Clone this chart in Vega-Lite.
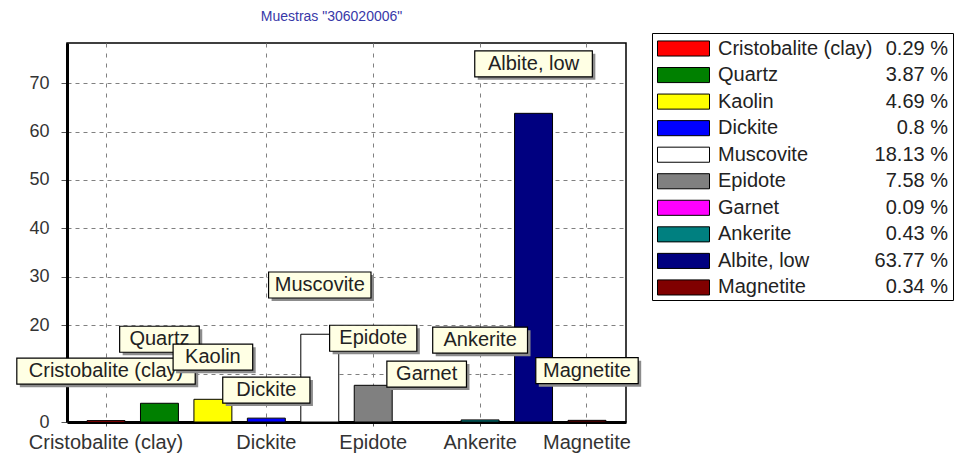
{
  "$schema": "https://vega.github.io/schema/vega-lite/v6.json",
  "width": 559,
  "height": 379,
  "autosize": {"type": "none"},
  "padding": {"left": 67, "top": 43, "right": 338, "bottom": 39},
  "background": "white",
  "title": {
    "text": "Muestras \"306020006\"",
    "color": "#3838a8",
    "fontSize": 14,
    "font": "Liberation Sans",
    "fontWeight": "normal",
    "anchor": "middle",
    "dx": -15,
    "offset": 9
  },
  "config": {
    "font": "Liberation Sans",
    "view": {"stroke": "black", "strokeWidth": 1.5},
    "axis": {
      "labelFont": "Liberation Sans",
      "labelColor": "#333333",
      "gridColor": "#808080",
      "gridDash": [4, 4],
      "gridWidth": 1,
      "domainColor": "black",
      "domainWidth": 3,
      "tickColor": "#555555",
      "title": null
    }
  },
  "datasets": {
    "minerals": [
      {"mineral": "Cristobalite (clay)", "value": 0.29},
      {"mineral": "Quartz", "value": 3.87},
      {"mineral": "Kaolin", "value": 4.69},
      {"mineral": "Dickite", "value": 0.8},
      {"mineral": "Muscovite", "value": 18.13},
      {"mineral": "Epidote", "value": 7.58},
      {"mineral": "Garnet", "value": 0.09},
      {"mineral": "Ankerite", "value": 0.43},
      {"mineral": "Albite, low", "value": 63.77},
      {"mineral": "Magnetite", "value": 0.34}
    ],
    "labels": [
      {"mineral": "Cristobalite (clay)", "label_y": 10.5},
      {"mineral": "Quartz", "label_y": 17.1},
      {"mineral": "Kaolin", "label_y": 13.4},
      {"mineral": "Dickite", "label_y": 6.6},
      {"mineral": "Muscovite", "label_y": 28.3},
      {"mineral": "Epidote", "label_y": 17.3},
      {"mineral": "Garnet", "label_y": 9.9},
      {"mineral": "Ankerite", "label_y": 16.9},
      {"mineral": "Albite, low", "label_y": 74.0},
      {"mineral": "Magnetite", "label_y": 10.6}
    ]
  },
  "layer": [
    {
      "data": {"name": "minerals"},
      "mark": {"type": "bar", "stroke": "black", "strokeWidth": 1},
      "encoding": {
        "x": {
          "field": "mineral",
          "type": "nominal",
          "sort": null,
          "scale": {"paddingInner": 0.29, "paddingOuter": 0.375},
          "axis": {
            "values": ["Cristobalite (clay)", "Dickite", "Epidote", "Ankerite", "Magnetite"],
            "labelAngle": 0,
            "labelFontSize": 20,
            "labelPadding": 6,
            "tickSize": 4,
            "grid": true,
            "gridDash": [4, 6],
            "labelOverlap": false,
            "zindex": 0
          }
        },
        "y": {
          "field": "value",
          "type": "quantitative",
          "scale": {"domain": [0, 78.3], "nice": false},
          "axis": {
            "values": [0, 10, 20, 30, 40, 50, 60, 70],
            "labelFontSize": 18,
            "tickSize": 6,
            "labelPadding": 12,
            "grid": true,
            "zindex": 0
          }
        },
        "color": {
          "field": "mineral",
          "type": "nominal",
          "sort": null,
          "scale": {"range": ["#ff0000", "#008000", "#ffff00", "#0000ff", "#ffffff", "#808080", "#ff00ff", "#008080", "#000080", "#800000"]},
          "legend": {
            "orient": "none",
            "legendX": 585,
            "legendY": -10,
            "title": null,
            "symbolType": "M-2,-0.58H2V0.58H-2Z",
            "symbolSize": 676,
            "symbolOffset": 16,
            "symbolStrokeColor": "black",
            "symbolStrokeWidth": 1,
            "labelFontSize": 20,
            "labelColor": "#222222",
            "labelOffset": 21,
            "labelLimit": 300,
            "rowPadding": 2.55,
            "padding": 2,
            "zindex": 2
          }
        }
      }
    },
    {
      "data": {"name": "minerals"},
      "mark": {"type": "point", "opacity": 0},
      "encoding": {
        "x": {"field": "mineral", "type": "nominal", "sort": null},
        "y": {"field": "value", "type": "quantitative"},
        "shape": {
          "field": "value",
          "type": "nominal",
          "sort": null,
          "scale": {"range": ["M-1,-0.58H21.77V0.58H-1Z"]},
          "legend": {
            "orient": "none",
            "legendX": 585,
            "legendY": -10,
            "title": null,
            "symbolSize": 676,
            "symbolOpacity": 0,
            "symbolStrokeWidth": 1,
            "symbolStrokeColor": "transparent",
            "labelFontSize": 20,
            "labelColor": "#222222",
            "labelAlign": "right",
            "labelOffset": 267,
            "labelExpr": "datum.label + ' %'",
            "rowPadding": 2.55,
            "padding": 2,
            "strokeColor": "black",
            "fillColor": "white",
            "zindex": 1
          }
        }
      }
    },
    {
      "data": {"name": "labels"},
      "transform": [{"filter": "datum.mineral !== 'Kaolin'"}],
      "mark": {"type": "rect", "width": {"expr": "length(datum.mineral)*7.6+34"}, "height": 26, "fill": "#8c8c8c", "xOffset": 3, "yOffset": 3},
      "encoding": {
        "x": {"field": "mineral", "type": "nominal", "sort": null},
        "y": {"field": "label_y", "type": "quantitative"}
      }
    },
    {
      "data": {"name": "labels"},
      "transform": [{"filter": "datum.mineral !== 'Kaolin'"}],
      "mark": {"type": "rect", "width": {"expr": "length(datum.mineral)*7.6+34"}, "height": 26, "fill": "#ffffe4", "stroke": "black", "strokeWidth": 1.2},
      "encoding": {
        "x": {"field": "mineral", "type": "nominal", "sort": null},
        "y": {"field": "label_y", "type": "quantitative"}
      }
    },
    {
      "data": {"name": "labels"},
      "transform": [{"filter": "datum.mineral !== 'Kaolin'"}],
      "mark": {"type": "text", "fontSize": 20, "color": "#222222", "align": "center", "baseline": "middle", "font": "Liberation Sans"},
      "encoding": {
        "x": {"field": "mineral", "type": "nominal", "sort": null},
        "y": {"field": "label_y", "type": "quantitative"},
        "text": {"field": "mineral"}
      }
    },
    {
      "data": {"name": "labels"},
      "transform": [{"filter": "datum.mineral === 'Kaolin'"}],
      "mark": {"type": "rect", "width": {"expr": "length(datum.mineral)*7.6+34"}, "height": 26, "fill": "#8c8c8c", "xOffset": 3, "yOffset": 3},
      "encoding": {
        "x": {"field": "mineral", "type": "nominal", "sort": null},
        "y": {"field": "label_y", "type": "quantitative"}
      }
    },
    {
      "data": {"name": "labels"},
      "transform": [{"filter": "datum.mineral === 'Kaolin'"}],
      "mark": {"type": "rect", "width": {"expr": "length(datum.mineral)*7.6+34"}, "height": 26, "fill": "#ffffe4", "stroke": "black", "strokeWidth": 1.2},
      "encoding": {
        "x": {"field": "mineral", "type": "nominal", "sort": null},
        "y": {"field": "label_y", "type": "quantitative"}
      }
    },
    {
      "data": {"name": "labels"},
      "transform": [{"filter": "datum.mineral === 'Kaolin'"}],
      "mark": {"type": "text", "fontSize": 20, "color": "#222222", "align": "center", "baseline": "middle", "font": "Liberation Sans"},
      "encoding": {
        "x": {"field": "mineral", "type": "nominal", "sort": null},
        "y": {"field": "label_y", "type": "quantitative"},
        "text": {"field": "mineral"}
      }
    }
  ]
}
